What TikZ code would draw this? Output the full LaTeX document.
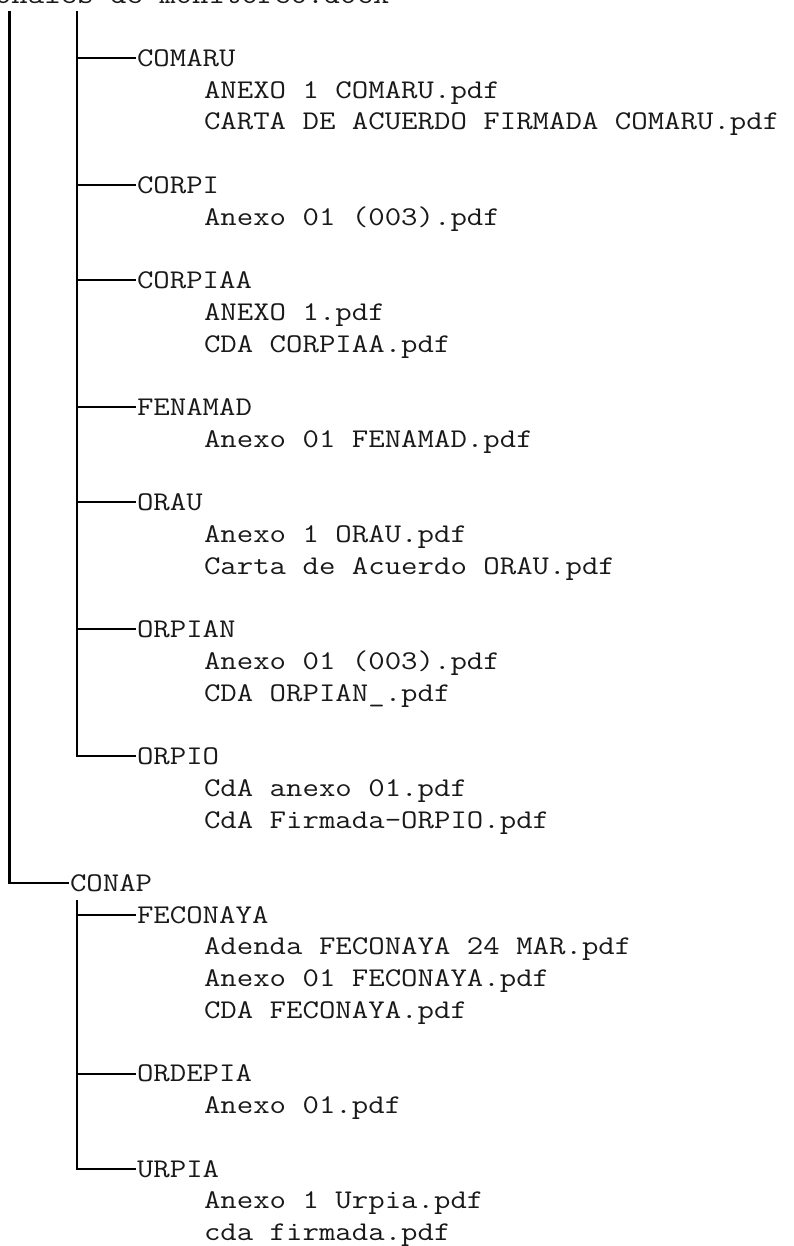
\documentclass[tikz,border=0pt]{standalone}
\usepackage{graphicx}
\newcommand\ct[1]{\scalebox{1.182}[1]{#1}}
\begin{document}
\begin{tikzpicture}[x=1pt,y=-1pt,
  txt/.style={anchor=base west,inner sep=0pt,outer sep=0pt,font=\ttfamily\fontsize{27}{31.7}\selectfont,text=black!90},
  tree/.style={line width=2.1pt,black,line cap=butt}]
\useasboundingbox (0,0) rectangle (793,1246);
\clip (0,0) rectangle (793,1246);
\fill[white] (0,0) rectangle (793,1246);
% top (cut) line
\node[txt] (top) at (-5,{3.04+31.73*0}) {\ct{onales de monitoreo.docx}};
% first group folders
\node[txt] (comaru)  at (137,{3.04+31.73*2}) {\ct{COMARU}};
\node[txt] (f1)      at (204,{3.04+31.73*3}) {\ct{ANEXO 1 COMARU.pdf}};
\node[txt] (f2)      at (204,{3.04+31.73*4}) {\ct{CARTA DE ACUERDO FIRMADA COMARU.pdf}};
\node[txt] (corpi)   at (137,{3.04+31.73*6}) {\ct{CORPI}};
\node[txt] (f3)      at (204,{3.04+31.73*7}) {\ct{Anexo 01 (003).pdf}};
\node[txt] (corpiaa) at (137,{3.04+31.73*9}) {\ct{CORPIAA}};
\node[txt] (f4)      at (204,{3.04+31.73*10}) {\ct{ANEXO 1.pdf}};
\node[txt] (f5)      at (204,{3.04+31.73*11}) {\ct{CDA CORPIAA.pdf}};
\node[txt] (fenamad) at (137,{3.04+31.73*13}) {\ct{FENAMAD}};
\node[txt] (f6)      at (204,{3.04+31.73*14}) {\ct{Anexo 01 FENAMAD.pdf}};
\node[txt] (orau)    at (137,{3.04+31.73*16}) {\ct{ORAU}};
\node[txt] (f7)      at (204,{3.04+31.73*17}) {\ct{Anexo 1 ORAU.pdf}};
\node[txt] (f8)      at (204,{3.04+31.73*18}) {\ct{Carta de Acuerdo ORAU.pdf}};
\node[txt] (orpian)  at (137,{3.04+31.73*20}) {\ct{ORPIAN}};
\node[txt] (f9)      at (204,{3.04+31.73*21}) {\ct{Anexo 01 (003).pdf}};
\node[txt] (f10)     at (204,{3.04+31.73*22}) {\ct{CDA ORPIAN\_.pdf}};
\node[txt] (orpio)   at (137,{3.04+31.73*24}) {\ct{ORPIO}};
\node[txt] (f11)     at (204,{3.04+31.73*25}) {\ct{CdA anexo 01.pdf}};
\node[txt] (f12)     at (204,{3.04+31.73*26}) {\ct{CdA Firmada-ORPIO.pdf}};
% CONAP group
\node[txt] (conap)   at (70,{3.04+31.73*28}) {\ct{CONAP}};
\node[txt] (feconaya) at (137,{3.04+31.73*29}) {\ct{FECONAYA}};
\node[txt] (f13)     at (204,{3.04+31.73*30}) {\ct{Adenda FECONAYA 24 MAR.pdf}};
\node[txt] (f14)     at (204,{3.04+31.73*31}) {\ct{Anexo 01 FECONAYA.pdf}};
\node[txt] (f15)     at (204,{3.04+31.73*32}) {\ct{CDA FECONAYA.pdf}};
\node[txt] (ordepia) at (137,{3.04+31.73*34}) {\ct{ORDEPIA}};
\node[txt] (f16)     at (204,{3.04+31.73*35}) {\ct{Anexo 01.pdf}};
\node[txt] (urpia)   at (137,{3.04+31.73*37}) {\ct{URPIA}};
\node[txt] (f17)     at (204,{3.04+31.73*38}) {\ct{Anexo 1 Urpia.pdf}};
\node[txt] (f18)     at (204,{3.04+31.73*39}) {\ct{cda firmada.pdf}};
% tree lines
\coordinate (ot) at (9.5,11);
\coordinate (it1) at (77,11);
\coordinate (it2) at (77,900);
\draw[tree,shorten >=1.5pt] (ot) -- (conap.west -| ot) -- (conap.west);
\draw[tree,shorten >=1.5pt] (it1) -- (orpio.west -| it1) -- (orpio.west);
\foreach \n in {comaru,corpi,corpiaa,fenamad,orau,orpian}
  \draw[tree,shorten >=1.5pt] (\n.west -| it1) -- (\n.west);
\draw[tree,shorten >=1.5pt] (it2) -- (urpia.west -| it2) -- (urpia.west);
\foreach \n in {feconaya,ordepia}
  \draw[tree,shorten >=1.5pt] (\n.west -| it2) -- (\n.west);
\end{tikzpicture}
\end{document}
